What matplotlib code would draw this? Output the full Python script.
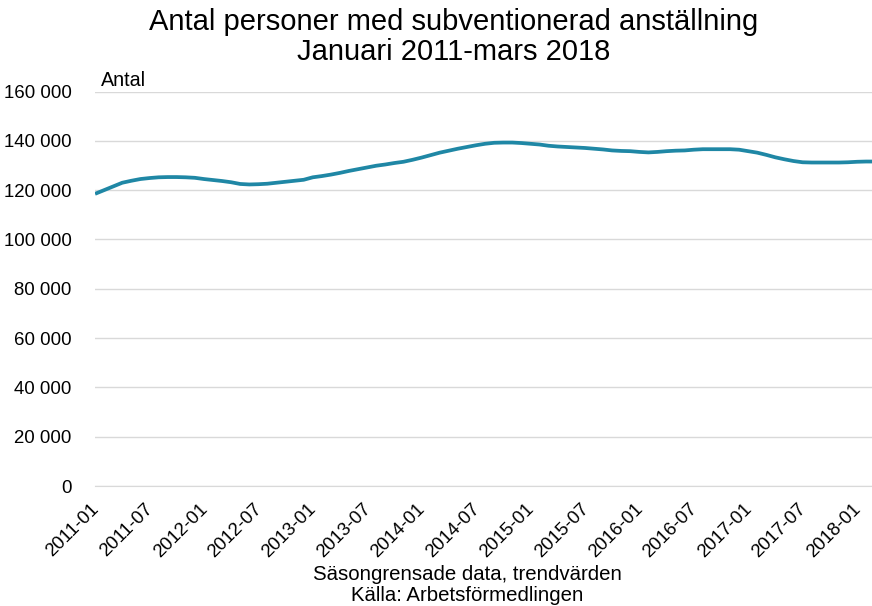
import numpy as np
import matplotlib
matplotlib.use('Agg')
import matplotlib.pyplot as plt
import matplotlib.transforms as mtransforms
from matplotlib.ticker import FuncFormatter

plt.rcParams['font.family'] = ['Liberation Sans', 'DejaVu Sans']

# -------------------
#    Data (thousands)
# -------------------
months = [f'{y}-{m:02d}' for y in range(2011, 2019) for m in range(1, 13)][:87]

v2011 = [118.5, 120.0, 121.5, 123.0, 123.8, 124.5, 124.9, 125.2, 125.3, 125.3, 125.2, 125.0]
v2012 = [124.5, 124.1, 123.7, 123.2, 122.5, 122.3, 122.4, 122.6, 123.0, 123.4, 123.8, 124.2]
v2013 = [125.2, 125.7, 126.3, 127.0, 127.8, 128.5, 129.2, 129.9, 130.4, 131.0, 131.5, 132.3]
v2014 = [133.2, 134.2, 135.2, 136.0, 136.8, 137.5, 138.2, 138.8, 139.2, 139.3, 139.3, 139.1]
v2015 = [138.8, 138.5, 138.0, 137.7, 137.5, 137.3, 137.1, 136.8, 136.5, 136.1, 135.9, 135.8]
v2016 = [135.5, 135.3, 135.5, 135.8, 136.0, 136.1, 136.4, 136.6, 136.6, 136.6, 136.6, 136.4]
v2017 = [135.8, 135.2, 134.3, 133.3, 132.5, 131.8, 131.3, 131.2, 131.2, 131.2, 131.2, 131.3]
v2018 = [131.5, 131.6, 131.6]

values = np.array(v2011 + v2012 + v2013 + v2014 + v2015 + v2016 + v2017 + v2018) * 1000

tick_pos = list(range(0, 87, 6))
tick_labels = [months[i] for i in tick_pos]

# -------------------
#    Plotting
# -------------------
fig = plt.figure(figsize=(8.72, 6.06), dpi=100)
ax = fig.add_axes([0.109, 0.198, 0.891, 0.651])

x = np.arange(len(values))
ax.plot(x, values, color='#1F87A5', lw=2.7, solid_capstyle='butt')

ax.set_ylim(0, 160000)
ax.set_xlim(0, 85.65)
ax.set_yticks(np.arange(0, 160001, 20000))
ax.yaxis.set_major_formatter(FuncFormatter(lambda v, p: f'{int(v):,}'.replace(',', ' ')))
ax.grid(axis='y', color='#d9d9d9', lw=1)
ax.set_axisbelow(True)
for s in ['top', 'right', 'left']:
    ax.spines[s].set_visible(False)
ax.spines['bottom'].set_color('#d9d9d9')

ax.set_xticks(tick_pos)
ax.set_xticklabels(tick_labels, rotation=45, ha='right', rotation_mode='anchor')
ax.tick_params(axis='both', length=0, labelsize=13.4, colors='black')
ax.tick_params(axis='x', pad=7)
ax.tick_params(axis='y', pad=17)

# nudge the slanted labels a bit down-left
shift = mtransforms.ScaledTranslation(-5/100, -5/100, fig.dpi_scale_trans)
for lbl in ax.get_xticklabels():
    lbl.set_transform(lbl.get_transform() + shift)

ax.text(0.008, 1.004, 'Antal', transform=ax.transAxes, fontsize=14.2, va='bottom')

fig.text(0.52, 0.987, 'Antal personer med subventionerad anställning\nJanuari 2011-mars 2018',
         ha='center', va='top', fontsize=21, linespacing=1.1)
fig.text(0.536, 0.009, 'Säsongrensade data, trendvärden\nKälla: Arbetsförmedlingen',
         ha='center', va='baseline', fontsize=14.7, linespacing=1.12)

plt.savefig('out.png', dpi=100)
plt.close()
